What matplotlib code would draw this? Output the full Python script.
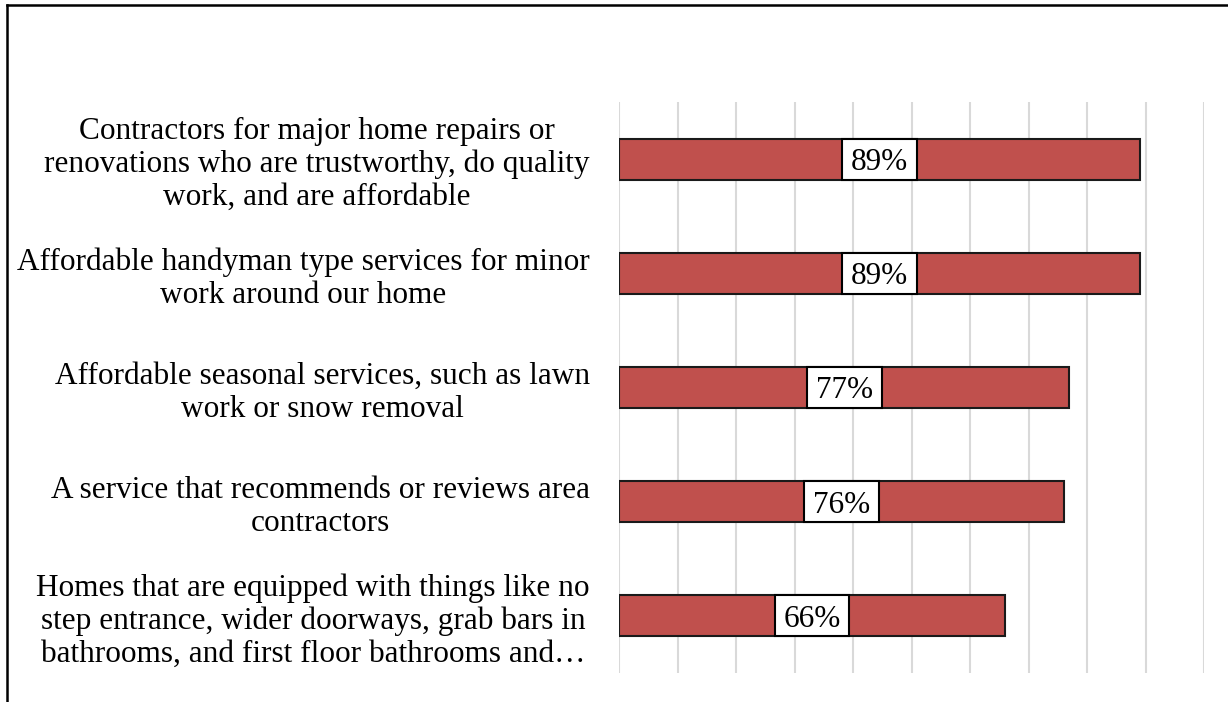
import matplotlib
matplotlib.use("Agg")
import matplotlib.pyplot as plt
from matplotlib.lines import Line2D
from matplotlib.patches import Rectangle

categories = [
    "Contractors for major home repairs or\nrenovations who are trustworthy, do quality\nwork, and are affordable",
    "Affordable handyman type services for minor\nwork around our home",
    "Affordable seasonal services, such as lawn\nwork or snow removal",
    "A service that recommends or reviews area\ncontractors",
    "Homes that are equipped with things like no\nstep entrance, wider doorways, grab bars in\nbathrooms, and first floor bathrooms and\u2026",
]
values = [0.89, 0.89, 0.77, 0.76, 0.66]

plt.rcParams["font.family"] = ["Liberation Serif", "DejaVu Serif"]

W, H = 1228, 702
fig = plt.figure(figsize=(W / 100, H / 100), dpi=100)
ax = fig.add_axes([619 / W, 1 - 673 / H, (1204 - 619) / W, (673 - 102) / H])

bar_h = 0.36
ypos = list(range(len(categories)))
ax.barh(ypos, values, height=bar_h, color="#C0504D", edgecolor="#1a1a1a",
        linewidth=1.5, zorder=3)

# value labels in white boxes centred on each bar
box_w = 0.128
for y, v in zip(ypos, values):
    ax.add_patch(Rectangle((v / 2 - box_w / 2, y - bar_h / 2), box_w, bar_h,
                           facecolor="white", edgecolor="black",
                           linewidth=1.5, zorder=4))
    ax.text(v / 2, y, f"{round(v * 100)}%", ha="center", va="center_baseline",
            fontsize=22.5, color="black", zorder=5)

ax.set_xlim(0, 1.0)
ax.set_ylim(len(categories) - 0.5, -0.5)
ax.set_xticks([i / 10 for i in range(11)])
ax.set_xticklabels([])
ax.tick_params(axis="x", length=0)
ax.tick_params(axis="y", length=0, pad=21)
ax.set_yticks(ypos)
ax.set_yticklabels(categories, fontsize=22.5)
for lbl in ax.get_yticklabels():
    lbl.set_multialignment("center")
    lbl.set_linespacing(1.16)
ax.grid(axis="x", color="#d9d9d9", linewidth=1.5, zorder=0)
for s in ax.spines.values():
    s.set_visible(False)

# frame lines along the left and top edges
fig.add_artist(Line2D([7 / W, 7 / W], [0, 1 - 5 / H], color="black", linewidth=1.8))
fig.add_artist(Line2D([7 / W, 1], [1 - 5 / H, 1 - 5 / H], color="black", linewidth=1.8))

fig.savefig("out.png", dpi=100)
